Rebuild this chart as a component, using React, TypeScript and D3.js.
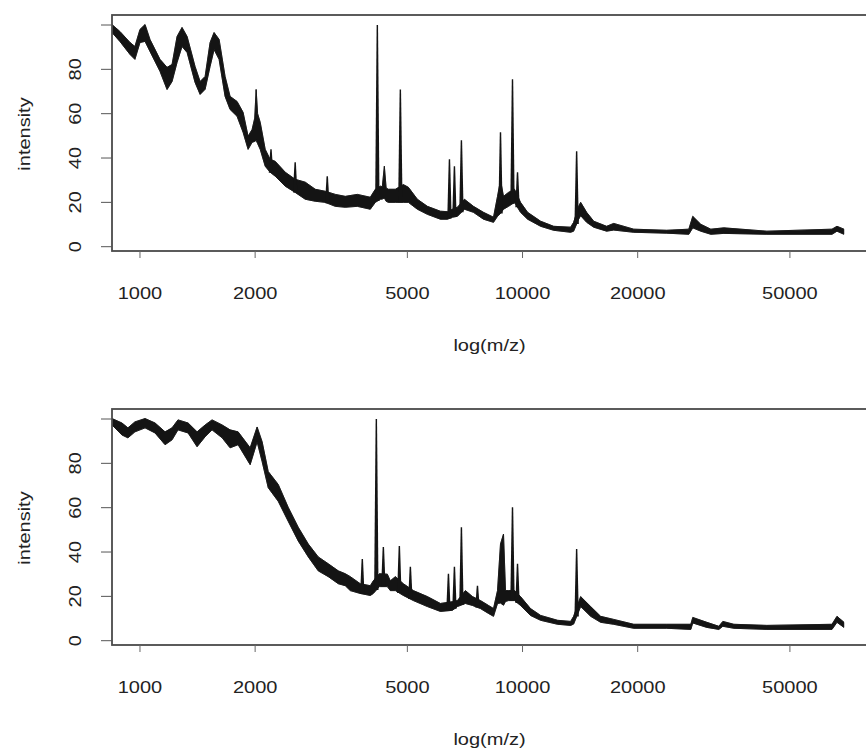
import React from "react";
import * as d3 from "d3";

// ---------- data ----------
const xTicks = [1000, 2000, 5000, 10000, 20000, 50000];
const yTicks = [0, 20, 40, 60, 80, 100];
const yTickLabels = ["0", "20", "40", "60", "80", ""];

// upper spectrum: m/z, lower and upper envelope of the noisy trace
const topMz = [845, 886, 942, 970, 1000, 1031, 1062, 1128, 1177, 1213, 1250, 1288, 1328, 1393, 1436, 1480, 1525, 1562, 1610, 1669, 1720, 1794, 1860, 1917, 1964, 1995, 2012, 2030, 2062, 2125, 2189, 2257, 2397, 2545, 2704, 2872, 3050, 3240, 3441, 3699, 4000, 4123, 4249, 4300, 4353, 4400, 4459, 4652, 4881, 5030, 5310, 5640, 6100, 6364, 6558, 6758, 7049, 7442, 7905, 8397, 8602, 8758, 8918, 9191, 9530, 9880, 10310, 11150, 12060, 13360, 13600, 14020, 14190, 14710, 15350, 16590, 17310, 19530, 23820, 27210, 27860, 29240, 31060, 33590, 43520, 64410, 66370, 69220];
const topLo = [96.6, 92.6, 86.7, 84.5, 92.1, 92.6, 88.1, 79.1, 70.9, 74.5, 83.1, 90.3, 87.6, 74.1, 68.7, 71.0, 81.3, 88.9, 84.5, 67.8, 61.9, 58.8, 51.6, 43.9, 47.1, 47.5, 48.0, 46.5, 43.9, 36.3, 33.6, 31.8, 27.3, 24.5, 21.4, 20.5, 20.0, 18.2, 17.8, 18.2, 16.9, 20.0, 21.4, 21.5, 22.0, 20.5, 20.0, 20.0, 20.0, 20.0, 16.9, 14.6, 12.4, 12.4, 13.3, 13.7, 16.9, 15.5, 12.4, 11.0, 13.7, 15.0, 16.9, 18.2, 20.0, 15.5, 12.4, 9.2, 7.4, 6.5, 7.0, 12.4, 14.0, 11.0, 8.8, 7.0, 7.5, 6.5, 6.1, 5.6, 8.5, 7.0, 5.6, 6.0, 5.6, 5.6, 7.0, 5.6];
const topHi = [100.2, 97.1, 92.1, 90.3, 98.0, 100.2, 93.5, 84.5, 80.9, 82.2, 94.8, 98.9, 94.8, 81.3, 74.5, 76.8, 92.1, 96.6, 93.5, 76.8, 67.8, 65.5, 60.6, 49.8, 52.9, 58.0, 70.9, 60.0, 56.1, 43.9, 39.4, 38.5, 33.6, 30.4, 29.1, 25.9, 25.0, 23.6, 22.7, 23.6, 22.3, 25.9, 27.3, 27.0, 36.3, 26.5, 25.9, 25.9, 28.0, 26.8, 21.4, 18.2, 16.0, 15.8, 16.9, 17.8, 21.4, 18.2, 15.5, 13.3, 22.7, 30.0, 22.7, 24.5, 25.9, 20.0, 15.5, 11.5, 9.2, 8.8, 11.0, 18.2, 20.0, 15.5, 11.5, 9.2, 10.5, 7.9, 7.4, 7.9, 13.7, 10.1, 7.9, 8.5, 7.0, 7.9, 9.2, 7.9];
// narrow peaks of the upper spectrum
const topPeakMz = [2200, 2545, 3087, 4173, 4793, 6441, 6637, 6922, 8758, 9414, 9703, 13850];
const topPeakVal = [44.0, 38.1, 31.8, 100.0, 70.9, 39.4, 36.3, 48.0, 51.6, 75.5, 33.6, 43.0];

// lower spectrum
const botMz = [845, 897, 930, 970, 1031, 1095, 1163, 1213, 1257, 1336, 1410, 1480, 1543, 1640, 1720, 1805, 1941, 2024, 2086, 2164, 2298, 2440, 2592, 2754, 2924, 3106, 3299, 3441, 3546, 3766, 4000, 4073, 4224, 4432, 4512, 4652, 4881, 5184, 5640, 6100, 6558, 6758, 7091, 7397, 7763, 8147, 8397, 8602, 8758, 8918, 9026, 9191, 9530, 9880, 10490, 11150, 12350, 13360, 13600, 14190, 15070, 16000, 17310, 19530, 23820, 27540, 27860, 30320, 32600, 33390, 35680, 43520, 64410, 66370, 69220];
const botLo = [97.3, 92.8, 91.5, 94.2, 96.0, 93.7, 88.4, 90.6, 95.1, 93.7, 87.5, 92.0, 95.1, 91.5, 87.0, 88.4, 79.4, 89.7, 80.8, 69.0, 62.9, 53.9, 45.0, 37.8, 31.5, 28.9, 25.7, 24.8, 22.6, 21.3, 20.4, 21.3, 24.4, 24.4, 22.6, 22.6, 20.4, 18.1, 15.4, 13.2, 13.7, 15.4, 16.8, 15.9, 14.5, 12.3, 11.0, 16.8, 17.0, 16.0, 17.7, 18.1, 18.1, 15.9, 11.4, 9.2, 7.4, 6.9, 7.5, 15.4, 11.0, 8.3, 7.4, 5.6, 5.6, 5.1, 8.0, 6.0, 5.1, 6.5, 5.6, 5.1, 5.1, 8.3, 6.0];
const botHi = [100.2, 98.2, 96.0, 98.7, 100.2, 98.2, 94.2, 96.0, 99.6, 98.2, 94.2, 97.3, 99.6, 97.3, 95.1, 94.2, 87.0, 96.4, 89.7, 76.3, 70.5, 60.2, 51.2, 43.6, 37.8, 34.7, 31.5, 30.2, 28.9, 25.7, 24.8, 27.0, 30.2, 30.0, 27.0, 28.9, 25.7, 22.6, 19.9, 16.8, 17.6, 18.1, 22.6, 19.9, 18.1, 15.9, 14.5, 22.6, 43.6, 48.1, 22.6, 22.6, 22.6, 19.9, 14.5, 11.4, 9.2, 8.7, 11.0, 19.9, 15.4, 11.0, 9.6, 7.4, 7.4, 7.4, 10.5, 8.3, 6.5, 8.7, 7.4, 6.9, 7.4, 11.0, 8.3];
const botPeakMz = [3812, 4148, 4327, 4764, 5091, 6402, 6637, 6922, 7624, 9414, 9703, 13850];
const botPeakVal = [36.9, 100.0, 42.3, 42.7, 33.3, 30.2, 33.3, 51.2, 24.8, 60.2, 34.7, 41.4];

// ---------- layout ----------
const W = 866;
const H = 756;
const FONT = "'Liberation Sans', Arial, Helvetica, sans-serif";
const INK = "#141414";

type PanelProps = {
  offset: number;
  mz: number[];
  lo: number[];
  hi: number[];
  peakMz: number[];
  peakVal: number[];
  id: string;
};

function Panel({ offset, mz, lo, hi, peakMz, peakVal, id }: PanelProps) {
  const left = 112;
  const right = 868;
  const top = 15 + offset;
  const bottom = 251 + offset;
  const x = d3.scaleLog().domain([845, 80000]).range([left, right]);
  const y = d3.scaleLinear().domain([0, 100]).range([246.7 + offset, 25 + offset]);

  const pts = mz.map((m, i) => ({ m, lo: lo[i], hi: hi[i] }));
  const area = d3
    .area<{ m: number; lo: number; hi: number }>()
    .x((d) => x(d.m))
    .y0((d) => y(d.lo))
    .y1((d) => y(d.hi));
  const hiLine = d3
    .line<{ m: number; lo: number; hi: number }>()
    .x((d) => x(d.m))
    .y((d) => y(d.hi));
  const loLine = d3
    .line<{ m: number; lo: number; hi: number }>()
    .x((d) => x(d.m))
    .y((d) => y(d.lo));

  const bis = d3.bisector((d: number) => d).left;
  const baseAt = (m: number) => {
    const j = Math.max(1, Math.min(mz.length - 1, bis(mz, m)));
    const t = (Math.log(m) - Math.log(mz[j - 1])) / (Math.log(mz[j]) - Math.log(mz[j - 1]));
    return lo[j - 1] + t * (lo[j] - lo[j - 1]);
  };

  const tickStyle = { fontFamily: FONT, fontSize: 16, fill: "#222" } as const;

  return (
    <g>
      <defs>
        <clipPath id={id}>
          <rect x={left} y={top} width={right - left} height={bottom - top} />
        </clipPath>
      </defs>
      <g clipPath={`url(#${id})`}>
        <path d={area(pts) || ""} fill={INK} stroke={INK} strokeWidth={0.5} strokeLinejoin="round" />
        <path d={hiLine(pts) || ""} fill="none" stroke={INK} strokeWidth={0.9} strokeLinejoin="round" />
        <path d={loLine(pts) || ""} fill="none" stroke={INK} strokeWidth={0.9} strokeLinejoin="round" />
        {peakMz.map((m, i) => {
          const px = x(m);
          const yb = y(baseAt(m));
          const yt = y(peakVal[i]);
          return (
            <path
              key={i}
              d={`M${px - 2.2},${yb} L${px - 0.7},${yt} L${px + 0.7},${yt} L${px + 2.2},${yb} Z`}
              fill={INK}
            />
          );
        })}
      </g>
      {/* box */}
      <rect x={left} y={top} width={right - left} height={bottom - top} fill="none" stroke="#4a4a4a" strokeWidth={1.8} />
      {/* x axis ticks */}
      {xTicks.map((t) => (
        <g key={t}>
          <line x1={x(t)} x2={x(t)} y1={bottom} y2={bottom + 7} stroke="#666" strokeWidth={1} />
          <text
            transform={`translate(${x(t)},${299 + offset}) scale(1.25,1)`}
            textAnchor="middle"
            style={tickStyle}
          >
            {t}
          </text>
        </g>
      ))}
      {/* y axis ticks */}
      {yTicks.map((t, i) => (
        <g key={t}>
          <line x1={left - 11} x2={left} y1={y(t)} y2={y(t)} stroke="#555" strokeWidth={1} />
          {yTickLabels[i] && (
            <text
              transform={`translate(81,${y(t)}) rotate(-90) scale(1.25,1)`}
              textAnchor="middle"
              style={tickStyle}
            >
              {yTickLabels[i]}
            </text>
          )}
        </g>
      ))}
      <text
        transform={`translate(${(140 + 789) / 2 + 25},${351 + offset}) scale(1.25,1)`}
        textAnchor="middle"
        style={{ fontFamily: FONT, fontSize: 16, fill: "#222" }}
      >
        log(m/z)
      </text>
      <text
        transform={`translate(30,${134 + offset}) rotate(-90) scale(1.25,1)`}
        textAnchor="middle"
        style={{ fontFamily: FONT, fontSize: 16, fill: "#222" }}
      >
        intensity
      </text>
    </g>
  );
}

export default function App() {
  return (
    <svg
      width={W}
      height={H}
      viewBox={`0 0 ${W} ${H}`}
      style={{ position: "absolute", left: 0, top: 0, background: "#fff" }}
    >
      <rect x={0} y={0} width={W} height={H} fill="#fff" />
      <Panel offset={0} mz={topMz} lo={topLo} hi={topHi} peakMz={topPeakMz} peakVal={topPeakVal} id="clipTop" />
      <Panel offset={394} mz={botMz} lo={botLo} hi={botHi} peakMz={botPeakMz} peakVal={botPeakVal} id="clipBot" />
    </svg>
  );
}
